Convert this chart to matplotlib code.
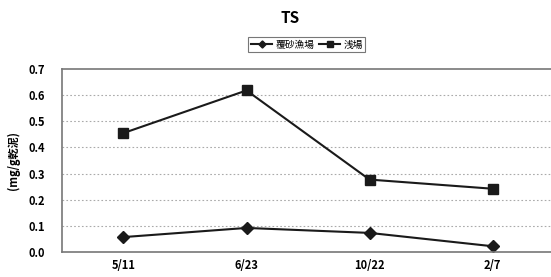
import numpy as np
import matplotlib
matplotlib.use('Agg')
import matplotlib.pyplot as plt

plt.rcParams['font.family'] = ['Noto Sans CJK JP', 'DejaVu Sans']

# ---- data ----
dates = ['5/11', '6/23', '10/22', '2/7']
fukusa = [0.057, 0.092, 0.073, 0.022]   # 覆砂漁場
asaba = [0.455, 0.618, 0.277, 0.242]    # 浅場
yticks = np.arange(0, 0.71, 0.1)

fig = plt.figure(figsize=(5.51, 2.77), dpi=100)
ax = fig.add_axes([0.1125, 0.0903, 0.893, 0.6606])

x = np.arange(len(dates))
ax.plot(x, fukusa, color='#1a1a1a', linewidth=1.5, marker='D', markersize=6,
        label='覆砂漁場')
ax.plot(x, asaba, color='#1a1a1a', linewidth=1.5, marker='s', markersize=7,
        label='浅場')

ax.set_xlim(-0.5, len(dates) - 0.5)
ax.set_ylim(0, 0.7)
ax.set_yticks(yticks)
ax.set_yticklabels(['%.1f' % v for v in yticks], fontsize=8, fontweight='bold')
ax.set_xticks(x)
ax.set_xticklabels(dates, fontsize=8, fontweight='bold')
ax.tick_params(axis='x', length=0, pad=5)
ax.tick_params(axis='y', length=0, pad=12)
for v in yticks[1:-1]:
    ax.axhline(v, color='#aaaaaa', linestyle=(0, (1.5, 2)), linewidth=0.8, zorder=0)
for s in ax.spines.values():
    s.set_color('#777777')
    s.set_linewidth(1.2)

ax.set_ylabel('(mg/g乾泥)', fontsize=8, fontweight='bold', labelpad=6)

fig.text(0.527, 0.935, 'TS', ha='center', va='center', fontsize=11, fontweight='bold')
leg = fig.legend(loc='center', bbox_to_anchor=(0.557, 0.838), ncol=2, fontsize=7,
                 frameon=True, fancybox=False, edgecolor='#555555',
                 handlelength=2.2, handletextpad=0.3, columnspacing=0.5,
                 borderpad=0.25, markerscale=0.6)
leg.get_frame().set_linewidth(0.8)

fig.savefig('out.png', dpi=100)
